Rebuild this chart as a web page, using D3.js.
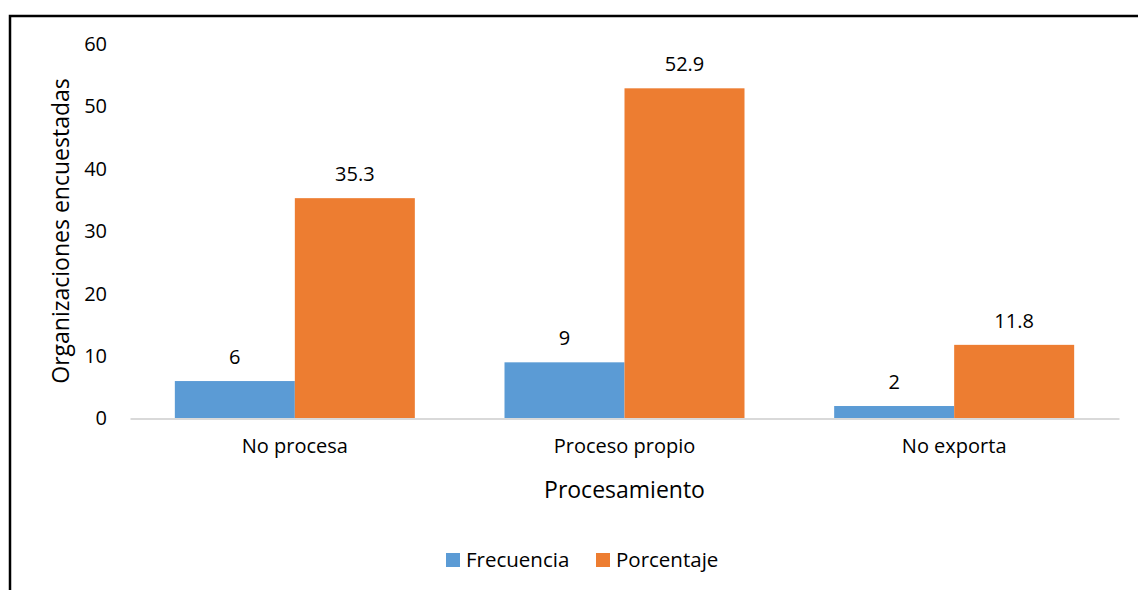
<!DOCTYPE html>
<html>
<head>
<meta charset="utf-8">
<style>
  body { margin: 0; background: #fff; }
  svg text { font-family: "Open Sans", sans-serif; fill: #000; }
</style>
</head>
<body>
<div id="container"></div>
<script src="https://cdn.jsdelivr.net/npm/d3@7/dist/d3.min.js"></script>
<script>
  // the data
  var categories = ["No procesa", "Proceso propio", "No exporta"];
  var seriesNames = ["Frecuencia", "Porcentaje"];
  var frecuencia = [6, 9, 2];
  var porcentaje = [35.3, 52.9, 11.8];
  var yTicks = [0, 10, 20, 30, 40, 50, 60];
  var colors = ["#5b9bd5", "#ed7d31"];

  // setup (plot area edges)
  var w = 1138, h = 590;
  var pLeft = 130, pRight = 1119, pTop = 44, pBottom = 418.5;

  var svg = d3.select("#container").append("svg")
    .attr("width", w)
    .attr("height", h);

  // frame around the whole figure
  svg.append("rect")
    .attr("x", 10).attr("y", 16)
    .attr("width", 1140).attr("height", 600)
    .attr("fill", "none")
    .attr("stroke", "#000")
    .attr("stroke-width", 2.5);

  var x0 = d3.scaleBand()
    .domain(categories)
    .range([pLeft, pRight])
    .paddingInner(0.272)
    .paddingOuter(0.136);

  var x1 = d3.scaleBand()
    .domain(seriesNames)
    .range([0, x0.bandwidth()]);

  var y = d3.scaleLinear()
    .domain([0, 60])
    .range([pBottom, pTop]);

  // y axis (labels only)
  var yAxis = svg.append("g")
    .attr("transform", "translate(" + 107 + ",0)")
    .call(d3.axisLeft(y).tickValues(yTicks).tickSize(0).tickPadding(0));
  yAxis.select(".domain").remove();
  yAxis.selectAll("text").style("font-size", "20px").style("font-family", "Open Sans");

  // bars
  var rows = categories.map(function(c, i) {
    return { cat: c, vals: [frecuencia[i], porcentaje[i]] };
  });

  var groups = svg.selectAll(".grp")
    .data(rows)
    .enter().append("g")
    .attr("class", "grp")
    .attr("transform", function(d) { return "translate(" + x0(d.cat) + ",0)"; });

  groups.selectAll("rect")
    .data(function(d) { return d.vals.map(function(v, j) { return { s: seriesNames[j], v: v, j: j }; }); })
    .enter().append("rect")
    .attr("x", function(d) { return x1(d.s); })
    .attr("width", x1.bandwidth())
    .attr("y", function(d) { return y(d.v); })
    .attr("height", function(d) { return pBottom - y(d.v); })
    .attr("fill", function(d) { return colors[d.j]; });

  // value labels, a bit above each bar
  groups.selectAll(".lbl")
    .data(function(d) { return d.vals.map(function(v, j) { return { s: seriesNames[j], v: v }; }); })
    .enter().append("text")
    .attr("class", "lbl")
    .attr("x", function(d) { return x1(d.s) + x1.bandwidth() / 2; })
    .attr("y", function(d) { return y(d.v) - 17; })
    .attr("text-anchor", "middle")
    .style("font-size", "20px")
    .text(function(d) { return d.v; });

  // x axis
  var xAxis = svg.append("g")
    .attr("transform", "translate(0," + pBottom + ")")
    .call(d3.axisBottom(x0).tickSize(0).tickPadding(20).tickSizeOuter(0));
  xAxis.select(".domain").attr("stroke", "#d9d9d9").attr("stroke-width", 2);
  xAxis.selectAll("text").style("font-size", "20px").style("font-family", "Open Sans");

  // axis titles
  svg.append("text")
    .attr("x", (pLeft + pRight) / 2)
    .attr("y", 498)
    .attr("text-anchor", "middle")
    .style("font-size", "23px")
    .text("Procesamiento");

  svg.append("text")
    .attr("transform", "rotate(-90)")
    .attr("x", -231)
    .attr("y", 69)
    .attr("text-anchor", "middle")
    .style("font-size", "23px")
    .text("Organizaciones encuestadas");

  // legend
  var legX = [446, 596];
  var leg = svg.selectAll(".leg")
    .data(seriesNames)
    .enter().append("g")
    .attr("class", "leg")
    .attr("transform", function(d, i) { return "translate(" + legX[i] + ",553)"; });
  leg.append("rect")
    .attr("width", 14).attr("height", 14)
    .attr("fill", function(d, i) { return colors[i]; });
  leg.append("text")
    .attr("x", 20).attr("y", 14)
    .style("font-size", "20.5px")
    .text(function(d) { return d; });
</script>
</body>
</html>
